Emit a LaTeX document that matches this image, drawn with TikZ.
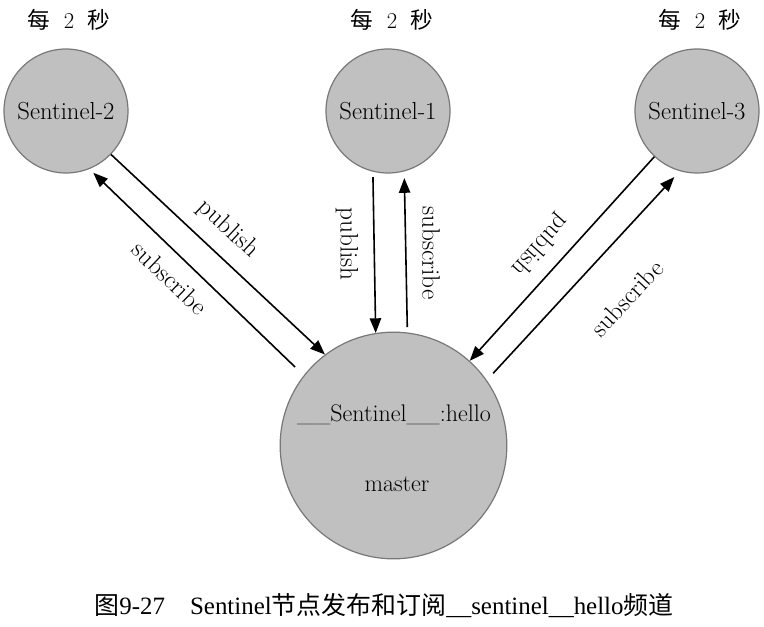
\documentclass[tikz,border=0pt]{standalone}
\usepackage{fontspec}
\newfontfamily\cjk{Noto Sans CJK SC}
\newfontfamily\capfont{Liberation Serif}
\usetikzlibrary{arrows.meta}
\definecolor{circfill}{RGB}{192,192,192}
\definecolor{circline}{RGB}{120,120,120}
\tikzset{
  x=0.75pt, y=-0.75pt,
  sent/.style={circle, draw=circline, fill=circfill, line width=0.9pt, inner sep=0pt,
    minimum size=93pt, font=\fontsize{18.5}{20}\selectfont},
  mast/.style={circle, draw=circline, fill=circfill, line width=0.9pt, inner sep=0pt,
    minimum size=170pt},
  txt/.style={inner sep=0pt, font=\fontsize{18}{20}\selectfont},
  lbl/.style={inner sep=0pt, font=\fontsize{19}{21}\selectfont},
  top/.style={inner sep=0pt, font=\fontsize{17}{19}\selectfont},
  conn/.style={draw=black, line width=1.2pt, -{Triangle[length=11pt,width=8.5pt]}},
}
\begin{document}
\begin{tikzpicture}
\path[use as bounding box] (0,0) rectangle (764,627);

% per-2-seconds labels
\node[top] (t2) at (69,20) {{\cjk 每}\ \ 2\ \ {\cjk 秒}};
\node[top] (t1) at (392,20) {{\cjk 每}\ \ 2\ \ {\cjk 秒}};
\node[top] (t3) at (700,20) {{\cjk 每}\ \ 2\ \ {\cjk 秒}};

% sentinels
\node[sent] (s2) at (66,111) {Sentinel-2};
\node[sent] (s1) at (388,111) {Sentinel-1};
\node[sent] (s3) at (697,111) {Sentinel-3};

% master
\node[mast] (m) at (393.5,445.5) {};
\node[txt] (mt1) at (394,415) {\_\_Sentinel\_\_:hello};
\node[txt] (mt2) at (397,484) {master};

% connectors left
\draw[conn] (s2.-44) -- (m.127);
\draw[conn, shorten <=9pt, shorten >=4pt] (m.142) -- (s2.-68);
% connectors middle
\draw[conn, shorten <=4pt] (s1.-104) -- (m.99);
\draw[conn, shorten <=4pt, shorten >=5pt] (m.83) -- (s1.-75);
% connectors right
\draw[conn] (s3.-133) -- (m.48);
\draw[conn, shorten <=7pt, shorten >=6pt] (m.35) -- (s3.-106);

% labels
\node[lbl, rotate=-43] (lp) at (228,229) {publish};
\node[lbl, rotate=-44] (ls) at (170,278) {subscribe};
\node[lbl, rotate=-90] (mp) at (347,244) {publish};
\node[lbl, rotate=-90] (ms) at (431,253) {subscribe};
\node[lbl, rotate=228] (rp) at (540,245) {publish};
\node[lbl, rotate=47] (rs) at (627,298) {subscribe};

% caption
\node[inner sep=0pt, font=\capfont\fontsize{18.7}{21}\selectfont] (cap) at (384,606)
  {{\cjk 图}9-27\hspace{1em}Sentinel{\cjk 节点发布和订阅}\_\_sentinel\_\_hello{\cjk 频道}};
\end{tikzpicture}
\end{document}
